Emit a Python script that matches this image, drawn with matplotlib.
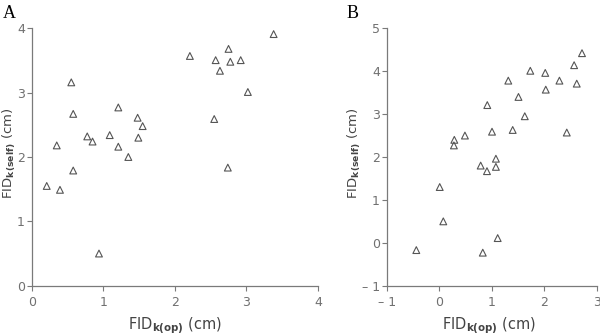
import matplotlib
matplotlib.use("Agg")
import matplotlib.pyplot as plt

# Panel A data
a_x = [0.21, 0.395, 0.35, 0.553, 0.58, 0.58, 0.776, 0.85, 0.94, 1.09, 1.21, 1.21,
       1.35, 1.48, 1.55, 1.49, 2.21, 2.57, 2.63, 2.75, 2.775, 2.92, 3.02, 2.55, 2.74, 3.38]
a_y = [1.55, 1.49, 2.18, 3.16, 2.67, 1.79, 2.32, 2.24, 0.50, 2.34, 2.77, 2.16,
       2.00, 2.61, 2.48, 2.30, 3.57, 3.505, 3.34, 3.68, 3.48, 3.505, 3.01, 2.59, 1.835, 3.91]

# Panel B data
b_x = [-0.436, 0.01, 0.078, 0.288, 0.28, 0.49, 0.79, 0.91, 0.83, 0.916, 1.006, 1.08, 1.08,
       1.114, 1.316, 1.40, 1.51, 1.63, 1.735, 2.02, 2.03, 2.29, 2.43, 2.57, 2.62, 2.72]
b_y = [-0.17, 1.30, 0.50, 2.40, 2.27, 2.50, 1.80, 1.67, -0.23, 3.21, 2.59, 1.96, 1.77,
       0.11, 3.78, 2.63, 3.40, 2.95, 4.01, 3.96, 3.57, 3.78, 2.57, 4.14, 3.71, 4.42]

a_xticks = [0, 1, 2, 3, 4]
a_yticks = [0, 1, 2, 3, 4]
b_xticks = [-1, 0, 1, 2, 3]
b_yticks = [-1, 0, 1, 2, 3, 4, 5]

xlabel = r"FID$_{\mathbf{k(op)}}$ (cm)"
ylabel = r"FID$_{\mathbf{k(self)}}$ (cm)"

W, H = 600, 335
fig = plt.figure(figsize=(6.0, 3.35), dpi=100)
axA = fig.add_axes([31.7 / W, 1 - 285.7 / H, (318 - 31.7) / W, (285.7 - 28.3) / H])
axB = fig.add_axes([386.7 / W, 1 - 285.7 / H, (596.7 - 386.7) / W, (285.7 - 28.3) / H])

spine_c = "#7a7a7a"
tick_c = "#707070"
lab_c = "#444444"

def style(ax, xs, ys, xt, yt):
    ax.scatter(xs, ys, marker="^", s=24, facecolors="none", edgecolors="#555555",
               linewidths=0.8, clip_on=False, zorder=3)
    ax.set_xlim(xt[0], xt[-1])
    ax.set_ylim(yt[0], yt[-1])
    ax.set_xticks(xt)
    ax.set_yticks(yt)
    ax.set_xticklabels([str(v).replace("-", "\u2013 ") for v in xt])
    ax.set_yticklabels([str(v).replace("-", "\u2013 ") for v in yt])
    for s in ["top", "right"]:
        ax.spines[s].set_visible(False)
    for s in ["left", "bottom"]:
        ax.spines[s].set_color(spine_c)
        ax.spines[s].set_linewidth(0.9)
    ax.tick_params(direction="out", length=3.5, width=0.8, color=spine_c,
                   labelcolor=tick_c, labelsize=9, pad=1.5)
    ax.tick_params(axis="x", pad=4)

style(axA, a_x, a_y, a_xticks, a_yticks)
style(axB, b_x, b_y, b_xticks, b_yticks)

fig.text(175 / W, 1 - 326 / H, xlabel, fontsize=10.5, color=lab_c, ha="center", va="center")
fig.text(489 / W, 1 - 326 / H, xlabel, fontsize=10.5, color=lab_c, ha="center", va="center")
fig.text(1 / W, 1 - 153 / H, ylabel, fontsize=9.5, color=lab_c, ha="left", va="center",
         rotation=90)
fig.text(346 / W, 1 - 153 / H, ylabel, fontsize=9.5, color=lab_c, ha="left", va="center",
         rotation=90)

fig.text(0.005, 0.985, "A", fontsize=13, family="Liberation Serif", va="top", ha="left")
fig.text(0.578, 0.985, "B", fontsize=13, family="Liberation Serif", va="top", ha="left")

fig.savefig("out.png", dpi=100)
